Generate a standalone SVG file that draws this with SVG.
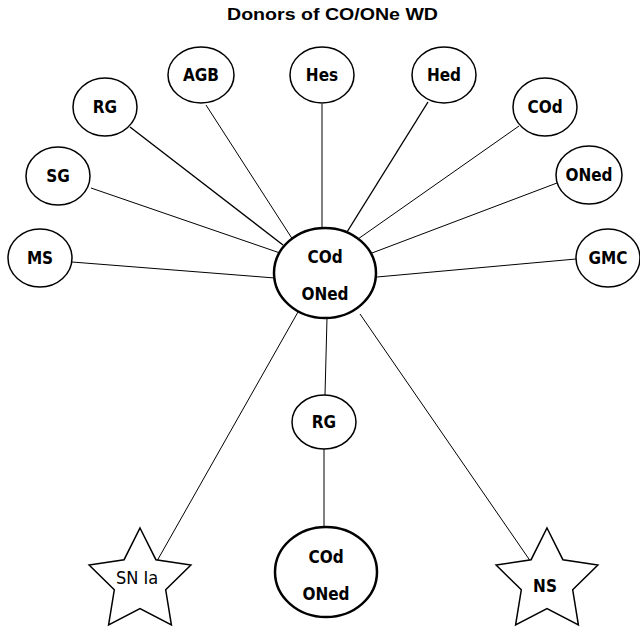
<svg xmlns="http://www.w3.org/2000/svg" width="640" height="633" viewBox="0 0 640 633">
<style>
.n{fill:#fff;stroke:#000;stroke-width:1.5}
.b{fill:#fff;stroke:#000;stroke-width:2.5}
.t{font-family:"DejaVu Sans Condensed","DejaVu Sans",sans-serif;font-weight:bold;font-size:17px;text-anchor:middle;fill:#000}
.c line{stroke:#000;stroke-width:1}
</style>
<rect width="640" height="633" fill="#fff"/>
<text x="332.5" y="20" textLength="211" lengthAdjust="spacingAndGlyphs" style="font-family:'Liberation Sans',Arial,sans-serif;font-weight:bold;font-size:17px;text-anchor:middle">Donors of CO/ONe WD</text>
<g class="c">
<line x1="206" y1="105" x2="293" y2="240"/>
<line x1="130" y1="127" x2="283" y2="245" style="stroke-width:1.4"/>
<line x1="91" y1="188" x2="280" y2="253"/>
<line x1="72" y1="262" x2="275" y2="278"/>
<line x1="322" y1="104" x2="322" y2="228"/>
<line x1="428" y1="102" x2="347" y2="232" style="stroke-width:1.4"/>
<line x1="519" y1="126" x2="358" y2="239"/>
<line x1="557" y1="183" x2="372" y2="253"/>
<line x1="576" y1="259" x2="377" y2="277"/>
<line x1="327" y1="318" x2="325" y2="395"/>
<line x1="324" y1="449" x2="324" y2="528"/>
<line x1="298" y1="312" x2="157" y2="561"/>
<line x1="360" y1="314" x2="531" y2="562"/>
</g>
<g id="agb"><ellipse class="n" cx="201" cy="75" rx="33" ry="28"/><text class="t" x="201" y="81">AGB</text></g>
<g id="hes"><ellipse class="n" cx="322" cy="75" rx="32" ry="28"/><text class="t" x="322" y="81">Hes</text></g>
<g id="hed"><ellipse class="n" cx="444" cy="75" rx="32" ry="28"/><text class="t" x="444" y="81">Hed</text></g>
<g id="rg1"><ellipse class="n" cx="105" cy="107" rx="32" ry="29"/><text class="t" x="105" y="113">RG</text></g>
<g id="cod1"><ellipse class="n" cx="545" cy="107" rx="32" ry="29"/><text class="t" x="545" y="113">COd</text></g>
<g id="sg"><ellipse class="n" cx="58" cy="176" rx="32" ry="29"/><text class="t" x="58" y="182">SG</text></g>
<g id="oned1"><ellipse class="n" cx="589" cy="175" rx="33" ry="29"/><text class="t" x="589" y="181">ONed</text></g>
<g id="ms"><ellipse class="n" cx="40" cy="258" rx="32" ry="29"/><text class="t" x="40" y="264">MS</text></g>
<g id="gmc"><ellipse class="n" cx="608" cy="258" rx="32" ry="29"/><text class="t" x="608" y="264">GMC</text></g>
<g id="center"><ellipse class="b" cx="325" cy="273" rx="51" ry="45"/><text class="t" x="325" y="263">COd</text><text class="t" x="325" y="300">ONed</text></g>
<g id="rg2"><ellipse class="n" cx="324" cy="422" rx="32" ry="27"/><text class="t" x="324" y="428">RG</text></g>
<g id="bottom"><ellipse class="b" cx="326" cy="572" rx="51" ry="45"/><text class="t" x="326" y="563">COd</text><text class="t" x="326" y="600">ONed</text></g>
<g id="snia"><polygon class="n" points="140,528 155.9,559.7 190.9,565 165.7,589.8 171.4,625 140,608.5 108.6,625 114.3,589.8 89.1,565 124.1,559.7"/><text x="137" y="584" style="font-family:'DejaVu Sans Condensed','DejaVu Sans',sans-serif;font-size:18px;text-anchor:middle">SN Ia</text></g>
<g id="ns"><polygon class="n" points="547,528 562.9,559.7 597.9,565 572.7,589.8 578.4,625 547,608.5 515.6,625 521.3,589.8 496.1,565 531.1,559.7"/><text class="t" x="545" y="592">NS</text></g>
</svg>
